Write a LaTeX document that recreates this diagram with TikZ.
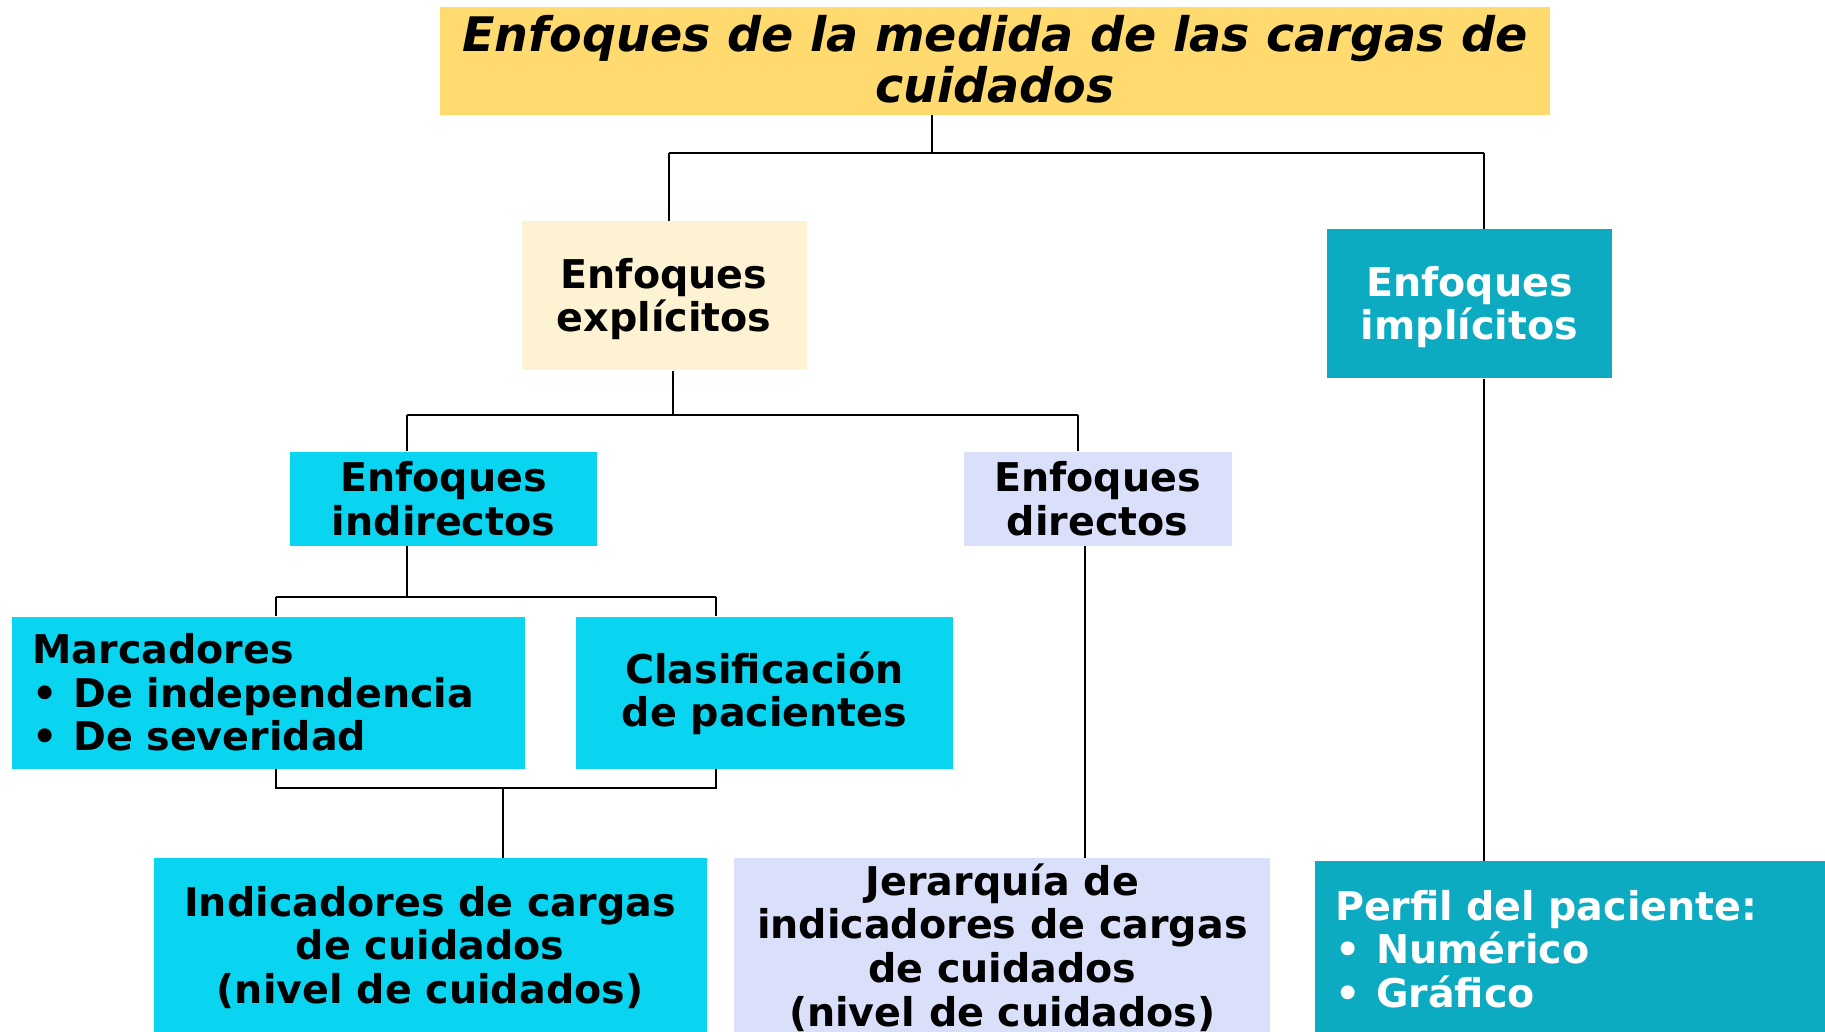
\documentclass[tikz,border=0pt]{standalone}
\usepackage{fontspec}
\setmainfont{DejaVu Sans}
\definecolor{titlecol}{HTML}{FFDA6F}
\definecolor{creamcol}{HTML}{FDF2D1}
\definecolor{tealcol}{HTML}{0CABC1}
\definecolor{cyancol}{HTML}{0AD5F1}
\definecolor{lavcol}{HTML}{DADFFA}
\newcommand\pushdn[1]{\rule{0pt}{#1}}
\newcommand\bul{\makebox[1.04em][l]{•}}
\begin{document}
\begin{tikzpicture}[x=0.5pt,y=-0.5pt,
  box/.style={rectangle, draw=none, inner sep=0pt, align=center,
    font=\fontsize{19.8}{21.8}\selectfont\bfseries},
  listbox/.style={box, align=left, inner xsep=10.5pt},
  conn/.style={line width=1pt, draw=black}]
\useasboundingbox[fill=white] (0,0) rectangle (1825,1032);

\node[box, fill=titlecol, minimum width=555pt, minimum height=54pt,
  font=\fontsize{23.8}{25.6}\selectfont\bfseries\itshape] (title) at (995,61)
  {Enfoques de la medida de las cargas de\\cuidados\rule[-1.8pt]{0pt}{1.8pt}};
\node[box, fill=creamcol, minimum width=142.5pt, minimum height=74.5pt] (expl) at (664,295.6)
  {\pushdn{18.5pt}Enfoques\\expl\'{\i}citos};
\node[box, fill=tealcol, text=white, minimum width=142.5pt, minimum height=74.5pt] (impl) at (1469.5,303.8)
  {\pushdn{18.5pt}Enfoques\\impl\'{\i}citos};
\node[box, fill=cyancol, minimum width=153.5pt, minimum height=47pt] (indir) at (443.5,498.7)
  {Enfoques\\indirectos};
\node[box, fill=lavcol, minimum width=134pt, minimum height=47pt] (dir) at (1097.5,498.7)
  {Enfoques\\directos};
\node[listbox, fill=cyancol, text width=235.5pt, minimum height=76pt] (marc) at (268,692.5)
  {Marcadores\\\bul De independencia\\\bul De severidad};
\node[box, fill=cyancol, minimum width=188.5pt, minimum height=76pt] (clas) at (764.5,692.5)
  {\pushdn{16.8pt}Clasificación\\de pacientes};
\node[box, fill=cyancol, minimum width=276.5pt, minimum height=87pt] (indic) at (430,945)
  {\pushdn{17.4pt}Indicadores de cargas\\de cuidados\\(nivel de cuidados)};
\node[box, fill=lavcol, minimum width=268pt, minimum height=87pt] (jer) at (1002.3,945)
  {\pushdn{18.2pt}Jerarquía de\\indicadores de cargas\\de cuidados\\(nivel de cuidados)};
\node[listbox, fill=tealcol, text=white, text width=234.8pt, minimum height=85.5pt, inner xsep=10.25pt] (perf) at (1569.8,946.5)
  {\pushdn{17.4pt}Perfil del paciente:\\\bul Numérico\\\bul Gráfico};

% bus coordinates
\coordinate (bA) at (932,153);
\coordinate (bAl) at (668.5,153);
\coordinate (bAr) at (1483.5,153);
\coordinate (bB) at (672.5,414.5);
\coordinate (bBl) at (407.4,414.5);
\coordinate (bBr) at (1078,414.5);
\coordinate (bC) at (407.4,596.5);
\coordinate (bCl) at (275.6,596.5);
\coordinate (bCr) at (715.6,596.5);
\coordinate (bD) at (502.5,788.3);
\coordinate (bDl) at (275.6,788.3);
\coordinate (bDr) at (715.6,788.3);
\coordinate (xDir) at (1084.6,0);
\coordinate (xImp) at (1483.5,0);

\draw[conn] (title.south -| bA) -- (bA);
\draw[conn] (bAl) -- (bAr);
\draw[conn] (bAl) -- (expl.north -| bAl);
\draw[conn] (bAr) -- (impl.north -| bAr);

\draw[conn] (expl.south -| bB) -- (bB);
\draw[conn] (bBl) -- (bBr);
\draw[conn] (bBl) -- (indir.north -| bBl);
\draw[conn] (bBr) -- (dir.north -| bBr);

\draw[conn] (indir.south -| bC) -- (bC);
\draw[conn] (bCl) -- (bCr);
\draw[conn] (bCl) -- (marc.north -| bCl);
\draw[conn] (bCr) -- (clas.north -| bCr);

\draw[conn] (marc.south -| bDl) -- (bDl) -- (bDr) -- (clas.south -| bDr);
\draw[conn] (bD) -- (indic.north -| bD);

\draw[conn] (dir.south -| xDir) -- (jer.north -| xDir);
\draw[conn] (impl.south -| xImp) -- (perf.north -| xImp);
\end{tikzpicture}
\end{document}
